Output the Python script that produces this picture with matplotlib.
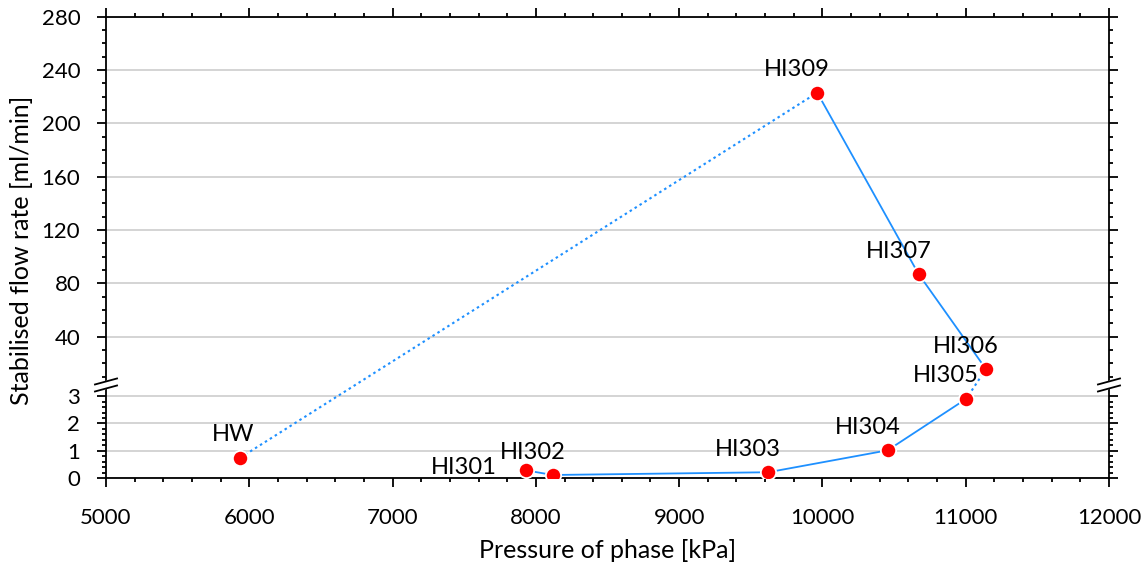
"""
Stabilised flow rate vs phase pressure, with a broken y axis
(0-3 ml/min linear at the bottom, 0-280 ml/min above the break).
"""

import matplotlib

matplotlib.use("Agg")
import matplotlib.pyplot as plt  # noqa: E402
import numpy as np  # noqa: E402

# --------------------------------------------------------------------------- #
# Data
# --------------------------------------------------------------------------- #

labels = ["HW", "HI301", "HI302", "HI303", "HI304", "HI305", "HI306", "HI307", "HI309"]
pressure_kpa = [5937, 7929, 8119, 9622, 10455, 11004, 11141, 10671, 9964]
flow_ml_min = [0.75, 0.29, 0.12, 0.22, 1.02, 2.90, 15.8, 87.0, 223.0]

# connections between phases, solid or dotted
solid_chains = [
    ["HI309", "HI307", "HI306"],
    ["HI305", "HI304", "HI303", "HI302", "HI301"],
]
dotted_pairs = [["HW", "HI309"], ["HI306", "HI305"]]

x_ticks = [5000, 6000, 7000, 8000, 9000, 10000, 11000, 12000]
y_ticks = [0, 1, 2, 3, 40, 80, 120, 160, 200, 240, 280]
y_tick_labels = ["0", "1", "2", "3", "40", "80", "120", "160", "200", "240", "280"]

# --------------------------------------------------------------------------- #
# Broken-axis scale: lower band 0-3, upper band 0-280 (pixel-ish units)
# --------------------------------------------------------------------------- #

K_LOW = 27.4      # units per ml/min below the break
K_HIGH = 1.3336   # units per ml/min above the break
OFF_HIGH = 88.2   # where the upper band's zero sits
LOW_MAX = 3.0


def _fwd(y):
    y = np.asarray(y, dtype=float)
    return np.where(y <= LOW_MAX, y * K_LOW, OFF_HIGH + y * K_HIGH)


def _inv(u):
    u = np.asarray(u, dtype=float)
    return np.where(u <= LOW_MAX * K_LOW, u / K_LOW, (u - OFF_HIGH) / K_HIGH)


plt.rcParams["font.family"] = ["Lato", "DejaVu Sans"]

LINE_BLUE = "#1e90ff"
GRID_GREY = "#d4d4d4"

fig = plt.figure(figsize=(11.46, 5.65), dpi=100)
ax = fig.add_axes([0.0925, 0.1535, 0.8752, 0.8170])
ax.set_yscale("function", functions=(_fwd, _inv))

pos = {n: (x, y) for n, x, y in zip(labels, pressure_kpa, flow_ml_min)}

for chain in solid_chains:
    ax.plot([pos[n][0] for n in chain], [pos[n][1] for n in chain],
            color=LINE_BLUE, lw=1.3, zorder=2, solid_capstyle="round")
for pair in dotted_pairs:
    ax.plot([pos[n][0] for n in pair], [pos[n][1] for n in pair],
            color=LINE_BLUE, lw=1.5, ls=(0, (1.2, 1.6)), zorder=2)

ax.plot(pressure_kpa, flow_ml_min, ls="none", marker="o", ms=11,
        mfc="#ff0000", mec="white", mew=1.3, zorder=3)

# point labels: offset in points from the marker
offsets = {"HW": (-5, 12, "center"), "HI301": (-21, -2.5, "right")}
for n in labels:
    dx, dy, ha = offsets.get(n, (-14.4, 11.8, "center"))
    ax.annotate(n, pos[n], xytext=(dx, dy), textcoords="offset points",
                ha=ha, va="baseline", fontsize=17, color="black", zorder=4)

ax.set_xlim(5000, 12000)
ax.set_ylim(0, 280)
ax.set_xticks(x_ticks)
ax.set_xticks(np.arange(5000, 12001, 200), minor=True)
ax.set_yticks(y_ticks)
ax.set_yticklabels(y_tick_labels)
minor_low = [v / 10 for v in range(2, 30, 2) if v % 10]
minor_high = [v for v in range(10, 280, 10) if v % 40]
ax.set_yticks(minor_low + minor_high, minor=True)

ax.yaxis.grid(True, which="major", color=GRID_GREY, lw=1.4, zorder=0)
ax.set_axisbelow(True)

for side in ax.spines.values():
    side.set_linewidth(1.3)
ax.tick_params(which="both", direction="out", top=True, right=True,
               labeltop=False, labelright=False, width=1.3, labelsize=16)
ax.tick_params(which="major", length=6.5)
ax.tick_params(which="minor", length=3.2)
ax.tick_params(axis="y", which="major", pad=12)
ax.tick_params(axis="x", which="major", pad=15)

ax.set_xlabel("Pressure of phase [kPa]", fontsize=18)
ax.set_ylabel("Stabilised flow rate [ml/min]", fontsize=18)
ax.xaxis.set_label_coords(0.5, -0.132)
ax.yaxis.set_label_coords(-0.0728, 0.4946)

# break marks on both spines
hx, hy = 0.011, 0.0065
y_up, y_lo = 0.2097, 0.1945
for x0 in (0.0, 1.0):
    ax.fill([x0 - hx, x0 + hx, x0 + hx, x0 - hx],
            [y_lo - hy, y_lo + hy, y_up + hy, y_up - hy],
            color="white", transform=ax.transAxes, clip_on=False, zorder=5)
    for yc in (y_up, y_lo):
        ax.plot([x0 - hx, x0 + hx], [yc - hy, yc + hy], color="black",
                lw=1.3, transform=ax.transAxes, clip_on=False, zorder=6)

fig.savefig("out.png", dpi=100)
